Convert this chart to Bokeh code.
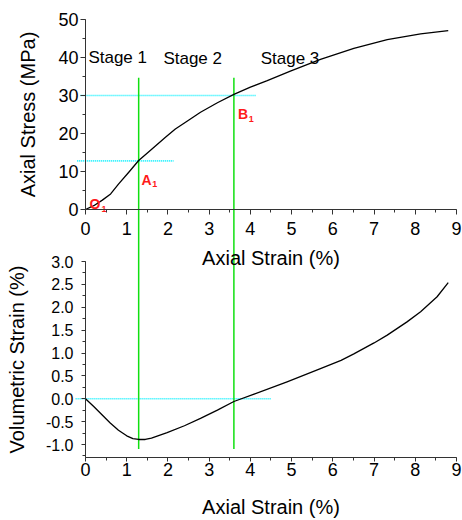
from bokeh.plotting import figure
from bokeh.models import Range1d, LinearAxis, SingleIntervalTicker, NumeralTickFormatter
from bokeh.core.properties import value
from bokeh.embed import file_html
from bokeh.resources import INLINE

# ---- data ----
strain_top = [0, 0.2, 0.40, 0.61, 0.81, 1.05, 1.29, 1.62, 1.94, 2.18, 2.5, 2.79,
              3.2, 3.6, 4.0, 4.41, 4.97, 5.70, 6.51, 7.32, 8.13, 8.8]
stress = [0, 1.0, 2.4, 4.1, 6.8, 9.8, 12.9, 16.0, 19.0, 21.2, 23.5, 25.6,
          28.1, 30.3, 32.2, 33.9, 36.4, 39.5, 42.4, 44.7, 46.2, 47.1]

strain_bot = [0, 0.2, 0.4, 0.6, 0.8, 1.0, 1.15, 1.29, 1.45, 1.6, 1.98, 2.4, 2.79,
              3.2, 3.6, 4.09, 4.89, 5.70, 6.2, 6.51, 7.0, 7.32, 7.8, 8.13, 8.53, 8.8]
vol_strain = [0, -0.17, -0.35, -0.53, -0.69, -0.81, -0.87, -0.89, -0.89, -0.86, -0.74,
              -0.59, -0.43, -0.25, -0.06, 0.10, 0.37, 0.66, 0.84, 0.98, 1.22, 1.39,
              1.68, 1.90, 2.23, 2.54]

stage_labels = ["Stage 1", "Stage 2", "Stage 3"]
point_labels = ["O", "A", "B"]
point_subs = ["1", "1", "1"]

boundary_strain = [1.29, 3.6]      # green stage boundaries
boundary_top_stress = 34.7
boundary_bottom_vol = -1.1
ref_stress = [12.8, 30.0]          # cyan reference lines (stress)
ref_stress_xstart = [-0.2, -0.12]
ref_stress_xend = [2.14, 4.13]
ref_vol = 0.0
ref_vol_xend = 4.5

X_RANGE = (-2.062, 9.146)
STRESS_RANGE = (-81.84, 55.0)
VOL_RANGE = (-2.661, 8.705)
VOL_AXIS_LO = -1.284
FONT = "Liberation Sans"


def vol_to_stress(v):
    return STRESS_RANGE[0] + (v - VOL_RANGE[0]) * (STRESS_RANGE[1] - STRESS_RANGE[0]) / (VOL_RANGE[1] - VOL_RANGE[0])


p = figure(width=462, height=520, output_backend="svg", toolbar_location=None,
           x_range=Range1d(*X_RANGE), y_range=Range1d(*STRESS_RANGE),
           x_axis_location=None, y_axis_location=None, min_border=0)
p.extra_y_ranges = {"vol": Range1d(*VOL_RANGE)}
p.outline_line_color = None
p.grid.grid_line_color = None
p.background_fill_color = "white"


def style(ax, tick_size, standoff, label_standoff, out=5, minor_out=3):
    ax.axis_line_color = "#333333"
    ax.major_tick_line_color = "#333333"
    ax.minor_tick_line_color = "#333333"
    ax.major_tick_in = 0
    ax.major_tick_out = out
    ax.minor_tick_in = 0
    ax.minor_tick_out = minor_out
    ax.major_label_text_font = FONT
    ax.major_label_text_font_size = tick_size
    ax.major_label_text_color = "black"
    ax.major_label_standoff = standoff
    ax.axis_label_text_font = FONT
    ax.axis_label_text_font_size = "20px"
    ax.axis_label_text_font_style = "normal"
    ax.axis_label_text_color = "black"
    ax.axis_label_standoff = label_standoff


# top panel x axis (at stress = 0)
ax1 = LinearAxis(fixed_location=0, bounds=(0, 9), axis_label="Axial Strain (%)",
                 ticker=SingleIntervalTicker(interval=1, num_minor_ticks=2))
style(ax1, "18px", 7, 9)
p.add_layout(ax1, "below")

# bottom panel x axis
ax2 = LinearAxis(y_range_name="vol", fixed_location=VOL_AXIS_LO, bounds=(0, 9),
                 axis_label="Axial Strain (%)",
                 ticker=SingleIntervalTicker(interval=1, num_minor_ticks=2))
style(ax2, "18px", 1, 17, out=4)
p.add_layout(ax2, "below")

# stress axis
ay1 = LinearAxis(fixed_location=0, bounds=(0, 50), axis_label="Axial Stress (MPa)",
                 ticker=SingleIntervalTicker(interval=10, num_minor_ticks=2))
style(ay1, "18px", 2, 16)
p.add_layout(ay1, "left")

# volumetric axis
ay2 = LinearAxis(y_range_name="vol", fixed_location=0, bounds=(VOL_AXIS_LO, 3.0),
                 axis_label="Volumetric Strain (%)",
                 ticker=SingleIntervalTicker(interval=0.5, num_minor_ticks=2),
                 formatter=NumeralTickFormatter(format="0.0"))
style(ay2, "16px", 8, 15, out=4)
p.add_layout(ay2, "left")

# cyan dotted reference lines
p.segment(x0=ref_stress_xstart, y0=ref_stress, x1=ref_stress_xend, y1=ref_stress,
          line_color="#00f0ff", line_width=1.6, line_dash="1 1")
p.segment(x0=[-0.24], y0=[ref_vol], x1=[ref_vol_xend], y1=[ref_vol], y_range_name="vol",
          line_color="#00f0ff", line_width=1.6, line_dash="1 1")

# green stage boundaries spanning both panels
p.segment(x0=boundary_strain, y0=[boundary_top_stress] * 2, x1=boundary_strain,
          y1=[vol_to_stress(boundary_bottom_vol)] * 2, line_color="#10e010", line_width=1.5)

# curves
p.line(strain_top, stress, line_color="black", line_width=1.3, line_join="round")
p.line(strain_bot, vol_strain, y_range_name="vol", line_color="black", line_width=1.3,
       line_join="round")

# stage labels
p.text(x=[0.07, 1.89, 4.25], y=[40.0, 39.7, 39.7], text=stage_labels,
       text_font=value(FONT), text_font_size=value("17px"), text_color="black",
       text_baseline="alphabetic", text_align="left")

# point labels
p.text(x=[0.10, 1.36, 3.70], y=[1.5, 7.8, 25.2], text=point_labels,
       text_font=value(FONT), text_font_size=value("14px"), text_font_style="bold",
       text_color="#ff1a1a", text_baseline="alphabetic", text_align="left")
p.text(x=[0.39, 1.62, 3.96], y=[0.1, 6.8, 23.8], text=point_subs,
       text_font=value(FONT), text_font_size=value("9px"), text_font_style="bold",
       text_color="#ff1a1a", text_baseline="alphabetic", text_align="left")

open("out.html", "w").write(file_html(p, INLINE))
